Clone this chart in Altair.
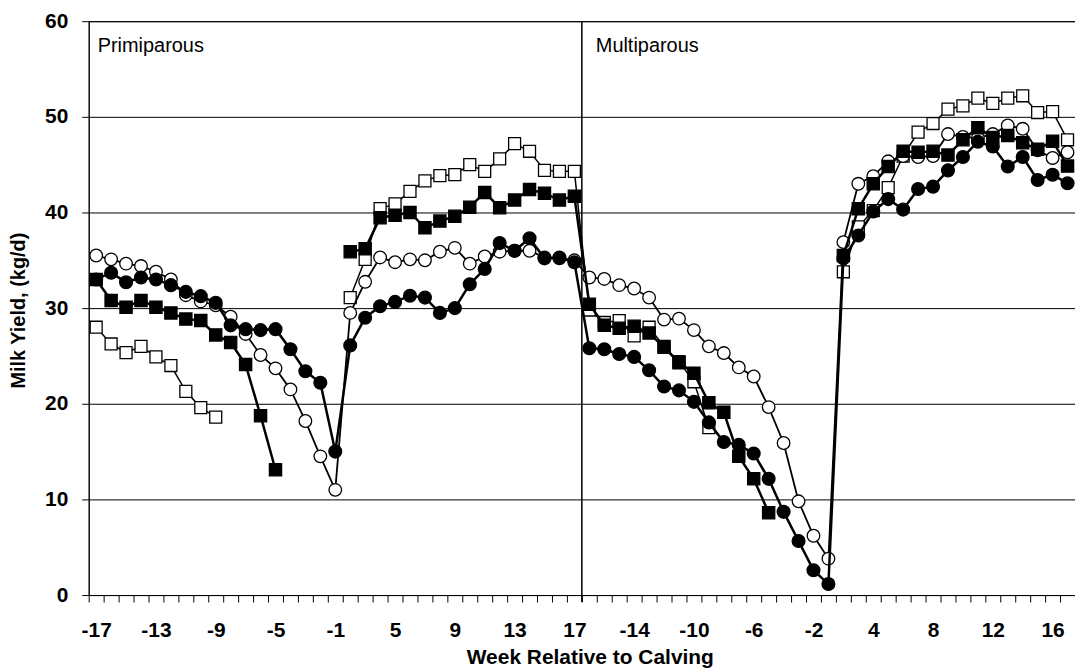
import altair as alt
import pandas as pd

# ---------------- data ----------------
parity_groups = ["Primiparous", "Multiparous"]
weeks_per_group = list(range(-17, 0)) + list(range(2, 18))   # 33 weeks per group (week 1 not shown)

# series values, index order: Primiparous weeks then Multiparous weeks (None = no value)
filled_circle = [
    33.0, 33.7, 32.7, 33.2, 33.0, 32.4, 31.7, 31.25, 30.55, 28.2, 27.8, 27.7, 27.8, 25.7, 23.4, 22.2, 15.0,
    26.1, 29.0, 30.2, 30.65, 31.3, 31.1, 29.5, 30.0, 32.5, 34.1, 36.8, 36.0, 37.3, 35.2, 35.3, 34.8,
    25.8, 25.7, 25.2, 24.9, 23.5, 21.8, 21.4, 20.2, 18.05, 16.0, 15.7, 14.8, 12.15, 8.7, 5.65, 2.6, 1.15,
    35.2, 37.6, 40.1, 41.4, 40.3, 42.45, 42.7, 44.4, 45.8, 47.4, 46.9, 44.8, 45.8, 43.4, 43.95, 43.05,
]
open_circle = [
    35.5, 35.1, 34.65, 34.4, 33.8, 33.0, 31.35, 30.7, 30.3, 29.1, 27.3, 25.1, 23.7, 21.5, 18.2, 14.5, 11.0,
    29.5, 32.75, 35.3, 34.8, 35.1, 35.0, 35.9, 36.3, 34.65, 35.4, 35.9, 36.0, 36.0, 35.3, 35.2, 35.0,
    33.2, 33.05, 32.4, 32.05, 31.1, 28.8, 28.9, 27.7, 26.0, 25.3, 23.8, 22.85, 19.65, 15.9, 9.8, 6.2, 3.8,
    36.9, 43.0, 43.8, 45.35, 45.9, 45.8, 45.9, 48.2, 47.9, 47.8, 48.2, 49.1, 48.75, 46.5, 45.7, 46.3,
]
filled_square = [
    33.0, 30.8, 30.1, 30.8, 30.1, 29.5, 28.85, 28.7, 27.2, 26.4, 24.1, 18.75, 13.1, None, None, None, None,
    35.9, 36.2, 39.45, 39.7, 40.0, 38.4, 39.1, 39.6, 40.55, 42.1, 40.5, 41.3, 42.4, 42.0, 41.3, 41.7,
    30.4, 28.2, 27.9, 28.1, 27.4, 25.9, 24.3, 23.2, 20.1, 19.1, 14.5, 12.15, 8.6, None, None, None, None,
    35.5, 40.4, 43.0, 44.8, 46.4, 46.3, 46.4, 46.0, 47.6, 48.85, 47.85, 48.05, 47.3, 46.6, 47.45, 44.85,
]
open_square = [
    28.0, 26.25, 25.35, 26.0, 24.9, 24.0, 21.3, 19.6, 18.6, None, None, None, None, None, None, None, None,
    31.1, 35.1, 40.4, 40.9, 42.2, 43.3, 43.85, 43.96, 45.0, 44.3, 45.6, 47.2, 46.4, 44.4, 44.3, 44.3,
    29.8, 28.5, 28.7, 27.1, 28.0, 26.0, 24.4, 22.3, 17.5, None, None, None, None, None, None, None, None,
    33.8, 38.5, 40.2, 42.6, 45.9, 48.4, 49.3, 50.8, 51.15, 51.95, 51.4, 51.95, 52.2, 50.45, 50.55, 47.6,
]

y_ticks = [0, 10, 20, 30, 40, 50, 60]
label_every = 4

# ---------------- table ----------------
cats = [(g, w) for g in parity_groups for w in weeks_per_group]
n_cat = len(cats)

series = [
    ("open_square", open_square),
    ("open_circle", open_circle),
    ("filled_square", filled_square),
    ("filled_circle", filled_circle),
]
rows = []
for name, vals in series:
    seg = 0
    for idx, ((g, w), v) in enumerate(zip(cats, vals)):
        if v is None:
            seg += 1
            continue
        rows.append(dict(series=name, idx=idx, group=g, week=w, milk=v, seg=f"{name}_{seg}"))
df = pd.DataFrame(rows)

W, H = 990, 576
FONT = "Liberation Sans"

week_arr = "[" + ",".join(f"'{w}'" for g, w in cats) + "]"
x_values = [k - 0.5 for k in range(n_cat + 1)] + list(range(0, n_cat, label_every))

x_axis = alt.Axis(
    values=x_values,
    labelExpr=f"datum.value % 1 == 0 ? {week_arr}[datum.value] : ''",
    tickOpacity={"condition": {"test": "datum.value % 1 != 0", "value": 1}, "value": 0},
    tickSize=7,
    labelPadding=18,
    labelOverlap=False,
    labelFlush=False,
    labelBound=False,
    grid=False,
    title="Week Relative to Calving",
    titleFontSize=21,
    titleBaseline="alphabetic",
    titleY=69,
    titleX=503,
)
y_axis = alt.Axis(
    values=y_ticks,
    grid=True,
    gridColor="black",
    gridOpacity=1,
    gridWidth=1,
    tickSize=7,
    labelPadding=14,
    title="Milk Yield, (kg/d)",
    titleFontSize=20,
    titleBaseline="alphabetic",
    titleX=-64,
    titleY=290,
)

X = alt.X("idx:Q", scale=alt.Scale(domain=[-0.5, n_cat - 0.5], nice=False, zero=False), axis=x_axis)
Y = alt.Y("milk:Q", scale=alt.Scale(domain=[0, 60], nice=False, zero=False), axis=y_axis)

base = alt.Chart(df)

styles = {
    "open_square": dict(shape="square", fill="white", lw=1.5, size=144),
    "open_circle": dict(shape="circle", fill="white", lw=1.8, size=160),
    "filled_square": dict(shape="square", fill="black", lw=2.5, size=150),
    "filled_circle": dict(shape="circle", fill="black", lw=2.5, size=165),
}

layers = []
for name, _ in series:
    st = styles[name]
    sub = base.transform_filter(alt.datum.series == name)
    layers.append(
        sub.mark_line(color="black", strokeWidth=st["lw"]).encode(x=X, y=Y, detail="seg:N")
    )
    layers.append(
        sub.mark_point(
            shape=st["shape"], filled=True, fill=st["fill"], stroke="black",
            strokeWidth=1.3, size=st["size"], opacity=1,
        ).encode(x=X, y=Y)
    )

# divider between the two groups
div_df = pd.DataFrame({"idx": [len(weeks_per_group) - 0.5]})
divider = alt.Chart(div_df).mark_rule(color="black", strokeWidth=1.5).encode(
    x=X, y=alt.value(0), y2=alt.value(H + 7)
)

# group labels
lab_df = pd.DataFrame({
    "idx": [-0.5, len(weeks_per_group) - 0.5],
    "milk": [60, 60],
    "label": parity_groups,
})
lab_left = alt.Chart(lab_df.iloc[[0]]).mark_text(
    align="left", baseline="middle", dx=9, dy=25, font=FONT, fontSize=20, color="black"
).encode(x=X, y=Y, text="label:N")
lab_right = alt.Chart(lab_df.iloc[[1]]).mark_text(
    align="left", baseline="middle", dx=14, dy=25, font=FONT, fontSize=20, color="black"
).encode(x=X, y=Y, text="label:N")

chart = alt.layer(divider, *layers, lab_left, lab_right).properties(
    width=W,
    height=H,
    background="white",
    autosize=alt.AutoSizeParams(type="none"),
    padding={"left": 81, "top": 12, "right": 0, "bottom": 75},
).configure_view(
    stroke="black", strokeWidth=1
).configure_axis(
    labelFont=FONT, labelFontWeight="bold", labelFontSize=21, labelColor="black",
    titleFont=FONT, titleFontWeight="bold", titleColor="black",
    domainColor="black", domainWidth=1, tickColor="black", tickWidth=1,
)

chart.save("out.html", embed_options={"renderer": "svg", "actions": False})
